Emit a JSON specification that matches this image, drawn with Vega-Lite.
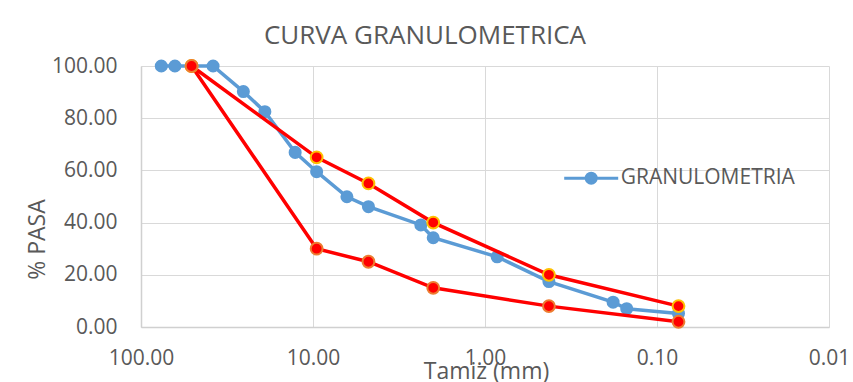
{
  "$schema": "https://vega.github.io/schema/vega-lite/v6.json",
  "autosize": {"type": "none"},
  "width": 688,
  "height": 261,
  "padding": {"left": 141, "top": 66, "right": 24, "bottom": 55},
  "background": "white",
  "config": {
    "font": "Open Sans",
    "view": {"stroke": null},
    "axis": {"labelColor": "#595959", "titleColor": "#595959", "labelFont": "Open Sans", "titleFont": "Open Sans", "titleFontWeight": "normal", "gridColor": "#D9D9D9", "gridWidth": 1, "domainColor": "#D0D0D0", "domainWidth": 1.5, "ticks": false, "tickSize": 0}
  },
  "title": {"text": "CURVA GRANULOMETRICA", "fontSize": 26, "fontWeight": "normal", "color": "#595959", "font": "Open Sans", "anchor": "middle", "frame": "group", "dx": -60, "baseline": "alphabetic", "offset": -14.5},
  "data": {"values": [
    {"serie": "GRANULOMETRIA", "tamiz": 76.2, "pasa": 100},
    {"serie": "GRANULOMETRIA", "tamiz": 63.5, "pasa": 100},
    {"serie": "GRANULOMETRIA", "tamiz": 50.8, "pasa": 100},
    {"serie": "GRANULOMETRIA", "tamiz": 38.1, "pasa": 100},
    {"serie": "GRANULOMETRIA", "tamiz": 25.4, "pasa": 90.2},
    {"serie": "GRANULOMETRIA", "tamiz": 19.05, "pasa": 82.5},
    {"serie": "GRANULOMETRIA", "tamiz": 12.7, "pasa": 66.9},
    {"serie": "GRANULOMETRIA", "tamiz": 9.525, "pasa": 59.5},
    {"serie": "GRANULOMETRIA", "tamiz": 6.35, "pasa": 49.9},
    {"serie": "GRANULOMETRIA", "tamiz": 4.76, "pasa": 46.1},
    {"serie": "GRANULOMETRIA", "tamiz": 2.36, "pasa": 39.1},
    {"serie": "GRANULOMETRIA", "tamiz": 2.0, "pasa": 34.2},
    {"serie": "GRANULOMETRIA", "tamiz": 0.85, "pasa": 26.9},
    {"serie": "GRANULOMETRIA", "tamiz": 0.425, "pasa": 17.4},
    {"serie": "GRANULOMETRIA", "tamiz": 0.18, "pasa": 9.5},
    {"serie": "GRANULOMETRIA", "tamiz": 0.15, "pasa": 7.0},
    {"serie": "GRANULOMETRIA", "tamiz": 0.075, "pasa": 5.2},
    {"serie": "LIMITE SUPERIOR", "tamiz": 50.8, "pasa": 100},
    {"serie": "LIMITE SUPERIOR", "tamiz": 9.525, "pasa": 65},
    {"serie": "LIMITE SUPERIOR", "tamiz": 4.76, "pasa": 55},
    {"serie": "LIMITE SUPERIOR", "tamiz": 2.0, "pasa": 40},
    {"serie": "LIMITE SUPERIOR", "tamiz": 0.425, "pasa": 20},
    {"serie": "LIMITE SUPERIOR", "tamiz": 0.075, "pasa": 8},
    {"serie": "LIMITE INFERIOR", "tamiz": 50.8, "pasa": 100},
    {"serie": "LIMITE INFERIOR", "tamiz": 9.525, "pasa": 30},
    {"serie": "LIMITE INFERIOR", "tamiz": 4.76, "pasa": 25},
    {"serie": "LIMITE INFERIOR", "tamiz": 2.0, "pasa": 15},
    {"serie": "LIMITE INFERIOR", "tamiz": 0.425, "pasa": 8},
    {"serie": "LIMITE INFERIOR", "tamiz": 0.075, "pasa": 2}
  ]},
  "encoding": {
    "x": {"field": "tamiz", "type": "quantitative",
      "scale": {"type": "log", "domain": [0.01, 100], "reverse": true, "nice": false},
      "axis": {"title": "Tamiz (mm)", "values": [100, 10, 1, 0.1, 0.01], "format": ".2f", "labelFontSize": 21, "labelPadding": 20, "labelFlush": false, "titleFontSize": 23, "titleY": 51, "titleBaseline": "alphabetic", "titleX": 345, "titleAnchor": null, "titleAlign": "center", "grid": true}},
    "y": {"field": "pasa", "type": "quantitative",
      "scale": {"domain": [0, 100], "nice": false},
      "axis": {"title": "% PASA", "values": [0, 20, 40, 60, 80, 100], "format": ".2f", "labelFontSize": 21, "labelPadding": 24, "titleFontSize": 23, "titleAngle": 270, "titleX": -104, "titleY": 173, "titleAlign": "center", "titleBaseline": "middle", "titleAnchor": null, "grid": true}}
  },
  "layer": [
    {
      "transform": [{"filter": "datum.serie === 'GRANULOMETRIA'"}],
      "mark": {"type": "line", "strokeWidth": 3.5, "point": {"filled": true, "size": 170}},
      "encoding": {
        "color": {"field": "serie", "type": "nominal",
          "scale": {"domain": ["GRANULOMETRIA"], "range": ["#5B9BD5"]},
          "legend": {"title": null, "orient": "none", "legendX": 421.7, "legendY": 83.7, "padding": 0,
            "symbolType": "M -1 0 L 1 0 M 0.185 0 A 0.185 0.185 0 1 1 -0.185 0 A 0.185 0.185 0 1 1 0.185 0 Z",
            "symbolSize": 2916, "symbolStrokeWidth": 3, "labelFontSize": 21, "labelColor": "#595959", "labelFont": "Open Sans", "labelOffset": 1, "labelLimit": 400,
            "encode": {"symbols": {"update": {"fill": {"value": "#5B9BD5"}, "stroke": {"value": "#5B9BD5"}, "strokeWidth": {"value": 3}, "opacity": {"value": 1}}}}}
        }
      }
    },
    {
      "transform": [{"filter": "datum.serie !== 'GRANULOMETRIA'"}],
      "mark": {"type": "line", "strokeWidth": 3.5, "color": "#FF0000"},
      "encoding": {"detail": {"field": "serie", "type": "nominal"}}
    },
    {
      "transform": [{"filter": "datum.serie !== 'GRANULOMETRIA'"}],
      "mark": {"type": "point", "filled": true, "fill": "#FF0000", "size": 140, "strokeWidth": 2, "opacity": 1},
      "encoding": {
        "stroke": {"field": "serie", "type": "nominal",
          "scale": {"domain": ["LIMITE SUPERIOR", "LIMITE INFERIOR"], "range": ["#FFC000", "#ED7D31"]},
          "legend": null}
      }
    }
  ]
}
